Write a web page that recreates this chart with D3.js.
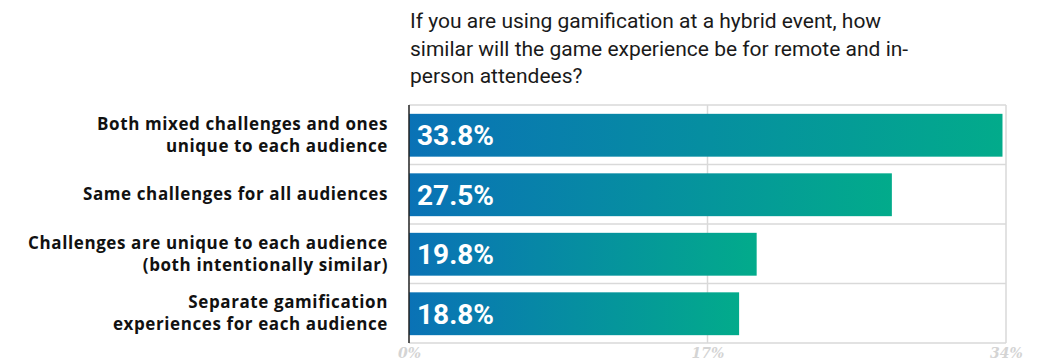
<!DOCTYPE html>
<html>
<head>
<meta charset="utf-8">
<script src="https://cdn.jsdelivr.net/npm/d3@7"></script>
<style>
  html, body { margin: 0; padding: 0; background: #fff; }
  svg { display: block; }
</style>
</head>
<body>
<svg id="chart" width="1047" height="362"></svg>
<script>
// Survey question and answers
const titleLines = [
  "If you are using gamification at a hybrid event, how",
  "similar will the game experience be for remote and in-",
  "person attendees?"
];
const categories = [
  ["Both mixed challenges and ones", "unique to each audience"],
  ["Same challenges for all audiences"],
  ["Challenges are unique to each audience", "(both intentionally similar)"],
  ["Separate gamification", "experiences for each audience"]
];
const values = [33.8, 27.5, 19.8, 18.8];
const tickValues = [0, 17, 34];
const tickLabels = ["0%", "17%", "34%"];

const svg = d3.select("#chart");
const margin = { left: 409, right: 41, top: 105, bottom: 19 };
const W = 1047, H = 362;

const x = d3.scaleLinear().domain([0, 34]).range([margin.left, W - margin.right]);
const y = d3.scaleBand()
  .domain(d3.range(values.length))
  .range([margin.top, H - margin.bottom])
  .paddingInner(0.28)
  .paddingOuter(0.14);

// Gradient applied per bar, blue to teal
const defs = svg.append("defs");
const grad = defs.append("linearGradient")
  .attr("id", "barGrad")
  .attr("x1", "0%").attr("x2", "100%").attr("y1", "0%").attr("y2", "0%");
grad.append("stop").attr("offset", "0%").attr("stop-color", "#0a72b6");
grad.append("stop").attr("offset", "100%").attr("stop-color", "#02ab8b");

// Title
const title = svg.append("text")
  .attr("x", 410)
  .attr("y", 28)
  .attr("font-family", "Roboto, 'Noto Sans', sans-serif")
  .attr("font-size", 21)
  .attr("fill", "#1a1a1a");
title.selectAll("tspan")
  .data(titleLines)
  .join("tspan")
  .attr("x", 410)
  .attr("dy", (d, i) => i === 0 ? 0 : 27.5)
  .text(d => d);

// Horizontal row separators at band boundaries
const step = y.step();
const rowEdges = d3.range(values.length + 1).map(i => margin.top + i * step);
svg.append("g")
  .selectAll("line")
  .data(rowEdges)
  .join("line")
  .attr("x1", margin.left)
  .attr("x2", x(34))
  .attr("y1", d => d)
  .attr("y2", d => d)
  .attr("stroke", "#d9d9d9")
  .attr("stroke-width", 1.5);

// Vertical gridlines
svg.append("g")
  .selectAll("line")
  .data(tickValues.slice(1))
  .join("line")
  .attr("x1", d => x(d))
  .attr("x2", d => x(d))
  .attr("y1", margin.top)
  .attr("y2", H - margin.bottom)
  .attr("stroke", "#d9d9d9")
  .attr("stroke-width", 1.5);

// Bars
svg.append("g")
  .selectAll("rect")
  .data(values)
  .join("rect")
  .attr("x", x(0))
  .attr("y", (d, i) => y(i) + 0.5)
  .attr("width", d => x(d) - x(0))
  .attr("height", y.bandwidth())
  .attr("fill", "url(#barGrad)");

// Value labels inside bars
svg.append("g")
  .selectAll("text")
  .data(values)
  .join("text")
  .attr("x", x(0) + 8)
  .attr("y", (d, i) => y(i) + 0.5 + y.bandwidth() / 2)
  .attr("dy", "0.36em")
  .attr("font-family", "Roboto, sans-serif")
  .attr("font-weight", 700)
  .attr("font-size", 28)
  .attr("fill", "#fff")
  .text(d => d.toFixed(1) + "%");

// Category labels
const labelG = svg.append("g")
  .attr("font-family", "'Open Sans', Roboto, sans-serif")
  .attr("font-weight", 700)
  .attr("font-size", 17)
  .attr("letter-spacing", 0.6)
  .attr("fill", "#111")
  .attr("text-anchor", "end");
categories.forEach((lines, i) => {
  const cy = y(i) + y.bandwidth() / 2;
  const lh = 22;
  const t = labelG.append("text")
    .attr("x", 388)
    .attr("y", cy - (lines.length - 1) * lh / 2);
  lines.forEach((ln, j) => {
    t.append("tspan").attr("x", 388).attr("dy", j === 0 ? "0.35em" : lh).text(ln);
  });
});

// Zero axis line
svg.append("line")
  .attr("x1", x(0)).attr("x2", x(0))
  .attr("y1", margin.top).attr("y2", H - margin.bottom)
  .attr("stroke", "#222")
  .attr("stroke-width", 1.5);

// Bottom axis tick labels
const axis = d3.axisBottom(x)
  .tickValues(tickValues)
  .tickFormat((d, i) => tickLabels[i])
  .tickSize(0)
  .tickPadding(5);
const axisG = svg.append("g")
  .attr("transform", `translate(0,${H - margin.bottom})`)
  .call(axis);
axisG.select(".domain").remove();
axisG.selectAll("text")
  .attr("font-family", "'DejaVu Serif', 'Liberation Serif', serif")
  .attr("font-style", "italic")
  .attr("font-weight", 700)
  .attr("font-size", 14)
  .attr("fill", "#d4d4d4");
</script>
</body>
</html>
